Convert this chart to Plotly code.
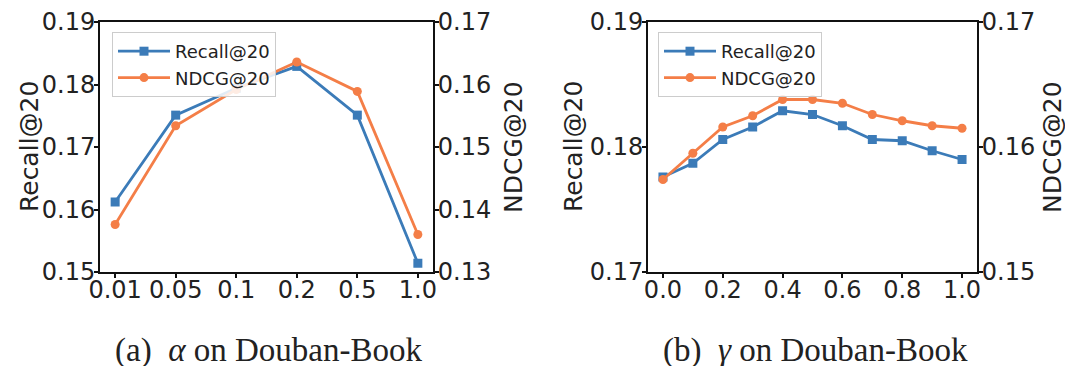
import plotly.graph_objects as go

# ---- data ----
alpha_labels = ["0.01", "0.05", "0.1", "0.2", "0.5", "1.0"]
alpha_recall = [0.1612, 0.1751, 0.1794, 0.1829, 0.1751, 0.1514]
alpha_ndcg = [0.1376, 0.1534, 0.1592, 0.1636, 0.1589, 0.1360]

gamma_x = [0.0, 0.1, 0.2, 0.3, 0.4, 0.5, 0.6, 0.7, 0.8, 0.9, 1.0]
gamma_recall = [0.1776, 0.1787, 0.1806, 0.1816, 0.1829, 0.1826, 0.1817, 0.1806, 0.1805, 0.1797, 0.1790]
gamma_ndcg = [0.1574, 0.1595, 0.1616, 0.1625, 0.1638, 0.1638, 0.1635, 0.1626, 0.1621, 0.1617, 0.1615]

captions = ["(a)  <i>α</i> on Douban-Book", "(b)  <i>γ</i> on Douban-Book"]

BLUE = "#3b7bb8"
ORANGE = "#f47e47"
W, H = 1073, 366
OFF = 8  # page body margin
FONT = "DejaVu Sans"

def px_x(p):
    return (p - OFF) / W

def px_y(p):
    return 1 - (p - OFF) / H

fig = go.Figure()

# left subplot
fig.add_trace(go.Scatter(x=alpha_labels, y=alpha_recall, name="Recall@20", mode="lines+markers",
                         line=dict(color=BLUE, width=2.8), marker=dict(symbol="square", size=9, color=BLUE),
                         xaxis="x", yaxis="y", legend="legend"))
fig.add_trace(go.Scatter(x=alpha_labels, y=alpha_ndcg, name="NDCG@20", mode="lines+markers",
                         line=dict(color=ORANGE, width=2.8), marker=dict(symbol="circle", size=9, color=ORANGE),
                         xaxis="x", yaxis="y2", legend="legend"))
# right subplot
fig.add_trace(go.Scatter(x=gamma_x, y=gamma_recall, name="Recall@20", mode="lines+markers",
                         line=dict(color=BLUE, width=2.8), marker=dict(symbol="square", size=9, color=BLUE),
                         xaxis="x2", yaxis="y3", legend="legend2"))
fig.add_trace(go.Scatter(x=gamma_x, y=gamma_ndcg, name="NDCG@20", mode="lines+markers",
                         line=dict(color=ORANGE, width=2.8), marker=dict(symbol="circle", size=9, color=ORANGE),
                         xaxis="x2", yaxis="y4", legend="legend2"))

tickfont = dict(family=FONT, size=24, color="#222")
common = dict(showgrid=False, zeroline=False, showline=True, linecolor="#111", linewidth=2,
              ticks="outside", ticklen=4, tickwidth=1.5, tickcolor="#111", tickfont=tickfont,
              automargin=False)
xcommon = dict(common, ticklabelstandoff=-9)
ycommon = dict(common, ticklabelstandoff=-6)

ydom = [px_y(272), px_y(22)]

legend_style = dict(xanchor="left", yanchor="top",
                    bgcolor="rgba(255,255,255,0.85)", bordercolor="#cccccc", borderwidth=1,
                    font=dict(family=FONT, size=18, color="#222"), itemwidth=52, tracegroupgap=0)

fig.update_layout(
    width=W, height=H, margin=dict(l=0, r=0, t=0, b=0, pad=0),
    paper_bgcolor="white", plot_bgcolor="white",
    xaxis=dict(domain=[px_x(100), px_x(433)], anchor="y", type="category",
               range=[-0.25, 5.25], mirror=True, **xcommon),
    yaxis=dict(domain=ydom, anchor="x", range=[0.15, 0.19], dtick=0.01, tickformat=".2f", **ycommon),
    yaxis2=dict(overlaying="y", side="right", anchor="x", range=[0.13, 0.17], dtick=0.01,
                tickformat=".2f", **ycommon),
    xaxis2=dict(domain=[px_x(648), px_x(977)], anchor="y3", range=[-0.05, 1.05], dtick=0.2,
                tickformat=".1f", mirror=True, **xcommon),
    yaxis3=dict(domain=ydom, anchor="x2", range=[0.17, 0.19], dtick=0.01, tickformat=".2f", **ycommon),
    yaxis4=dict(overlaying="y3", side="right", anchor="x2", range=[0.15, 0.17], dtick=0.01,
                tickformat=".2f", **ycommon),
    legend=dict(x=px_x(112), y=px_y(32), **legend_style),
    legend2=dict(x=px_x(658), y=px_y(32), **legend_style),
    showlegend=True,
)

titlefont = dict(family=FONT, size=25, color="#222")
for xc, txt in [(29, "Recall@20"), (513, "NDCG@20"), (573, "Recall@20"), (1052, "NDCG@20")]:
    fig.add_annotation(x=px_x(xc), y=px_y(147), xref="paper", yref="paper", text=txt,
                       textangle=-90, showarrow=False, font=titlefont, xanchor="center", yanchor="middle")

for xc, txt in [(268, captions[0]), (815, captions[1])]:
    fig.add_annotation(x=px_x(xc), y=px_y(350), xref="paper", yref="paper", text=txt,
                       showarrow=False, font=dict(family="Liberation Serif", size=33, color="#222"),
                       xanchor="center", yanchor="middle")

fig.write_html("out.html")
